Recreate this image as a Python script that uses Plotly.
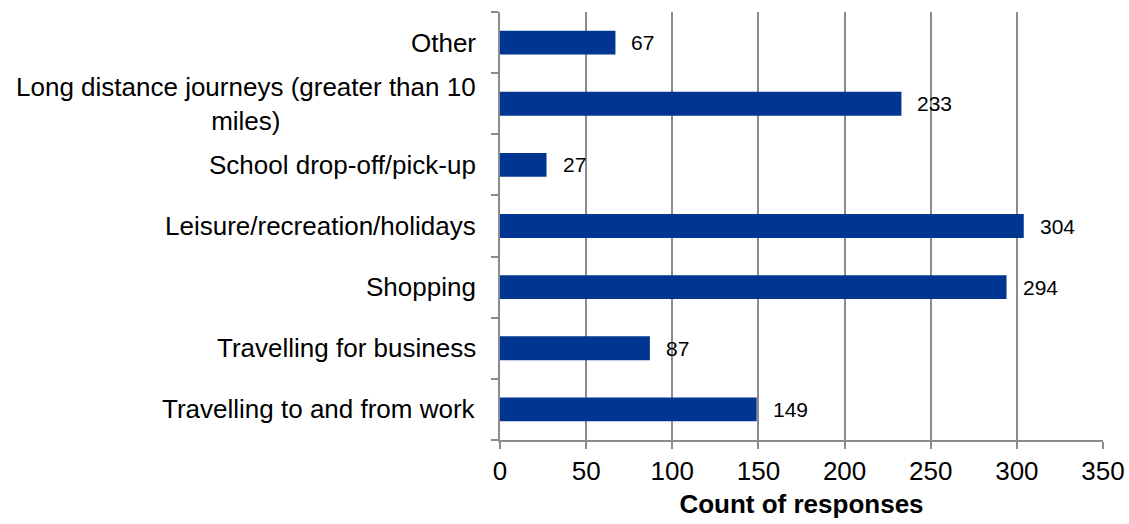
import plotly.graph_objects as go

# Journey purposes, listed bottom to top
purposes = [
    "Travelling to and from work",
    "Travelling for business",
    "Shopping",
    "Leisure/recreation/holidays",
    "School drop-off/pick-up",
    "Long distance journeys (greater than 10<br>miles)",
    "Other",
]
counts = [149, 87, 294, 304, 27, 233, 67]

x_ticks = [0, 50, 100, 150, 200, 250, 300, 350]

FONT = "Liberation Sans, Arial, sans-serif"
GRID = "#8c8c8c"
BAR = "#003591"

fig = go.Figure(
    go.Bar(
        x=counts,
        y=purposes,
        orientation="h",
        marker=dict(color=BAR, line=dict(width=0)),
        hoverinfo="x+y",
    )
)

# Value labels just past the end of each bar
for v, p in zip(counts, purposes):
    fig.add_annotation(
        x=v, y=p, xref="x", yref="y",
        text=str(v), showarrow=False,
        xanchor="left", yanchor="middle", xshift=14,
        font=dict(family=FONT, size=21, color="#000000"),
    )

# Category labels, centred line-by-line and right-aligned to the axis
for p in purposes:
    fig.add_annotation(
        x=0, y=p, xref="paper", yref="y",
        text=p, showarrow=False,
        xanchor="right", yanchor="middle", align="center", xshift=-22,
        font=dict(family=FONT, size=26, color="#000000"),
    )

fig.update_layout(
    width=1129,
    height=524,
    margin=dict(l=500, r=26, t=12, b=84, autoexpand=False),
    paper_bgcolor="#ffffff",
    plot_bgcolor="#ffffff",
    bargap=0.61,
    showlegend=False,
    font=dict(family=FONT, size=26, color="#000000"),
)

fig.update_xaxes(
    range=[0, 350],
    tickvals=x_ticks,
    ticktext=[str(t) for t in x_ticks],
    automargin=False,
    showgrid=True,
    gridcolor=GRID,
    gridwidth=1.5,
    showline=True,
    linecolor=GRID,
    linewidth=1.5,
    ticks="outside",
    ticklen=7,
    tickcolor=GRID,
    tickwidth=1.5,
    tickfont=dict(family=FONT, size=26, color="#000000"),
    zeroline=False,
    title=dict(
        text="<b>Count of responses</b>",
        font=dict(family=FONT, size=26, color="#000000"),
        standoff=10,
    ),
)

fig.update_yaxes(
    type="category",
    categoryorder="array",
    categoryarray=purposes,
    automargin=False,
    showgrid=False,
    showline=True,
    linecolor=GRID,
    linewidth=1.5,
    ticks="outside",
    tickson="boundaries",
    ticklen=7,
    tickcolor=GRID,
    tickwidth=1.5,
    showticklabels=False,
    zeroline=False,
)

fig.write_html("out.html")
